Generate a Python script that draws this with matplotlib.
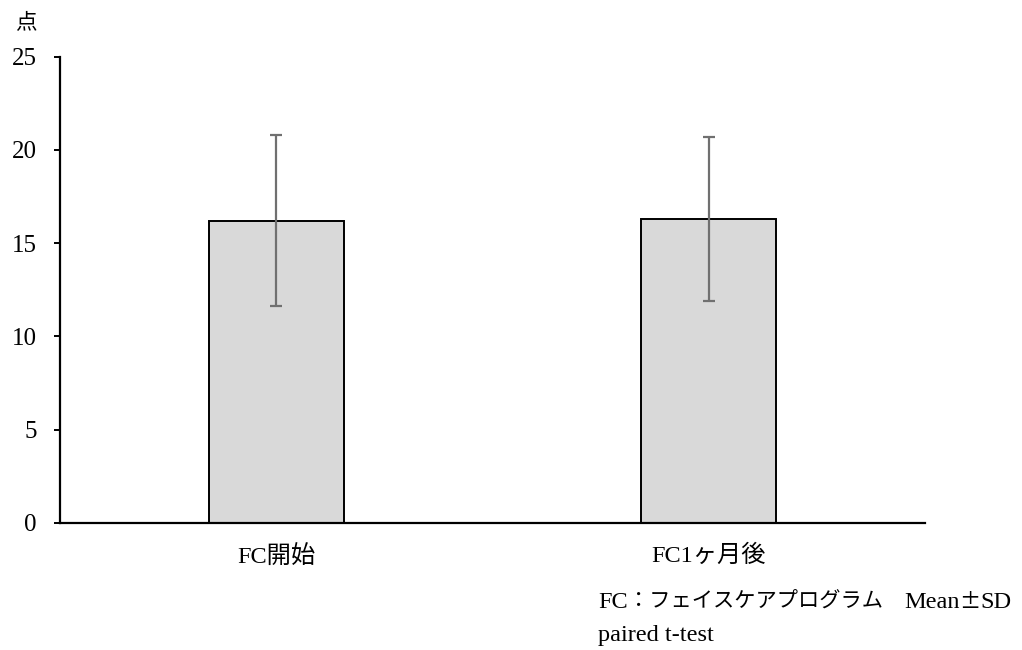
import matplotlib
matplotlib.use("Agg")
import matplotlib.pyplot as plt

categories = ["FC開始", "FC1ヶ月後"]
means = [16.2, 16.3]
sds = [4.6, 4.4]
y_ticks = [0, 5, 10, 15, 20, 25]

SERIF = "Liberation Serif"
CJK = "Noto Sans CJK JP"
plt.rcParams["font.family"] = [SERIF, CJK, "DejaVu Serif"]

W, H = 1022, 650
fig = plt.figure(figsize=(W / 100, H / 100), dpi=100)
ax = fig.add_axes([60 / W, (H - 522.7) / H, 865 / W, (522.7 - 56.7) / H])

x = list(range(len(categories)))
ax.bar(x, means, width=0.312, color="#d9d9d9", edgecolor="black", linewidth=1.4, zorder=2)
ax.errorbar(x, means, yerr=sds, fmt="none", ecolor="#707070", elinewidth=1.6,
            capsize=4.6, capthick=1.6, zorder=3)

ax.set_xlim(-0.5, 1.5)
ax.set_ylim(0, 25)
ax.set_yticks(y_ticks)
ax.set_yticklabels([str(t) for t in y_ticks], fontsize=18)
ax.set_xticks(x)
ax.set_xticklabels(categories, fontsize=17.5)
ax.tick_params(axis="x", length=0, pad=16)
ax.tick_params(axis="y", length=4.2, width=1.4, direction="out", pad=12.5)

for side in ("top", "right"):
    ax.spines[side].set_visible(False)
for side in ("left", "bottom"):
    ax.spines[side].set_linewidth(1.6)

fig.text(26 / W, 1 - 22 / H, "点", fontsize=15.5, family=CJK, ha="center", va="center")

# Footnote line drawn as consecutive runs so Latin text stays serif
renderer = fig.canvas.get_renderer()


def draw_runs(x_px, baseline_px, runs):
    cur = x_px
    for s, fam, size in runs:
        t = fig.text(cur / W, 1 - baseline_px / H, s, fontsize=size, family=fam,
                     ha="left", va="baseline")
        cur += t.get_window_extent(renderer).width


draw_runs(598, 608, [("FC", SERIF, 17.5),
                     ("：フェイスケアプログラム　", CJK, 15.3),
                     ("Mean", SERIF, 17.5),
                     ("±", CJK, 15.3),
                     ("SD", SERIF, 17.5)])
fig.text(598 / W, 1 - 641 / H, "paired t-test", fontsize=17.5, family=SERIF,
         ha="left", va="baseline")

fig.savefig("out.png", dpi=100)
